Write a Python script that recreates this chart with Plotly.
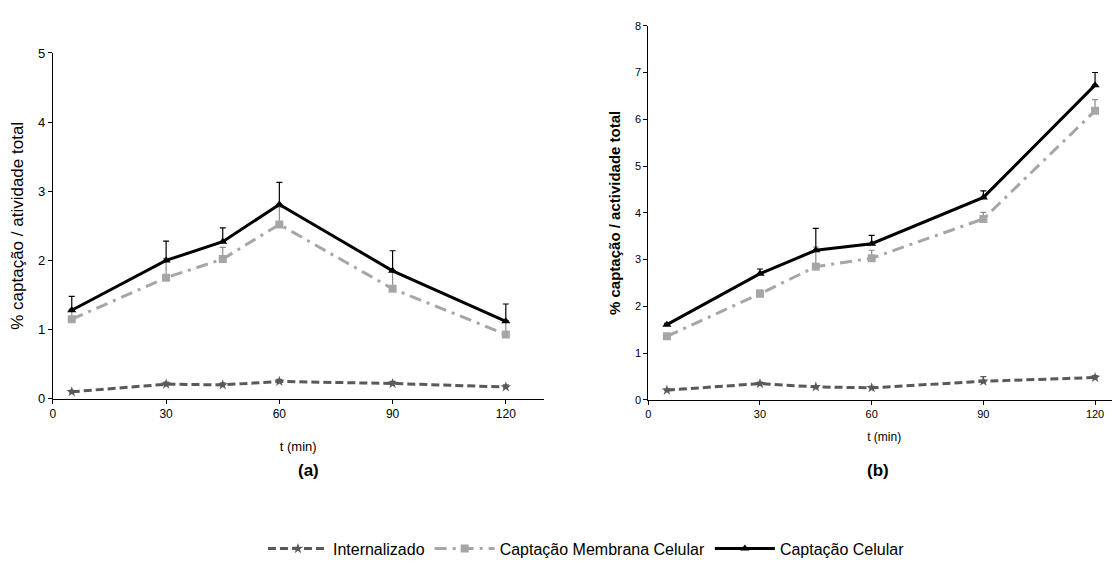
import plotly.graph_objects as go

# ---------------- data ----------------
t_min = [5, 30, 45, 60, 90, 120]

# panel (a)
a_internalizado = [0.10, 0.21, 0.20, 0.25, 0.22, 0.17]
a_internalizado_err = [0.02, 0.03, 0.03, 0.03, 0.03, 0.03]
a_membrana = [1.15, 1.75, 2.02, 2.52, 1.59, 0.93]
a_membrana_err = [0.15, 0.28, 0.17, 0.25, 0.26, 0.20]
a_celular = [1.28, 2.00, 2.27, 2.81, 1.85, 1.12]
a_celular_err = [0.20, 0.28, 0.20, 0.32, 0.29, 0.25]

# panel (b)
b_internalizado = [0.21, 0.35, 0.28, 0.26, 0.40, 0.48]
b_internalizado_err = [0.02, 0.03, 0.03, 0.03, 0.10, 0.04]
b_membrana = [1.36, 2.27, 2.85, 3.03, 3.87, 6.18]
b_membrana_err = [0.05, 0.08, 0.42, 0.17, 0.14, 0.24]
b_celular = [1.61, 2.70, 3.20, 3.34, 4.33, 6.73]
b_celular_err = [0.03, 0.10, 0.47, 0.18, 0.14, 0.27]

series_names = ["Internalizado", "Captação Membrana Celular", "Captação Celular"]
x_ticks = [0, 30, 60, 90, 120]
panel_labels = ["(a)", "(b)"]

# ---------------- geometry ----------------
# the page body adds an 8px offset; the figure is sized so that screen pixels match
OFF = 8
W, H = 1120 - OFF, 583 - OFF


def px(xs):
    return (xs - OFF) / W


def py(ys):
    return (H - (ys - OFF)) / H


FONT = "Liberation Sans, Arial, sans-serif"
styles = [
    dict(color="#595959", dash="8px,4px", symbol="star", size=8, ecolor="#595959"),
    dict(color="#A6A6A6", dash="12px,6px,3px,6px", symbol="square", size=8, ecolor="#8C8C8C"),
    dict(color="#000000", dash="solid", symbol="triangle-up", size=8, ecolor="#000000"),
]

fig = go.Figure()

panels = [
    ([a_internalizado, a_membrana, a_celular],
     [a_internalizado_err, a_membrana_err, a_celular_err], "x", "y"),
    ([b_internalizado, b_membrana, b_celular],
     [b_internalizado_err, b_membrana_err, b_celular_err], "x2", "y2"),
]

for pi, (vals, errs, xa, ya) in enumerate(panels):
    for si in range(3):
        st = styles[si]
        fig.add_trace(go.Scatter(
            x=t_min, y=vals[si], xaxis=xa, yaxis=ya,
            mode="lines+markers",
            name=series_names[si],
            showlegend=(pi == 0),
            line=dict(color=st["color"], width=3, dash=st["dash"]),
            marker=dict(symbol=st["symbol"], size=st["size"], color=st["color"]),
            error_y=dict(type="data", array=errs[si], arrayminus=[0] * len(errs[si]),
                         symmetric=False, color=st["ecolor"], thickness=1.2, width=3),
        ))

axis_common = dict(showline=True, linecolor="#000000", linewidth=1, ticks="outside",
                   ticklen=4, tickcolor="#000000", showgrid=False, zeroline=False,
                   mirror=False)

fig.update_layout(
    width=W, height=H,
    margin=dict(l=0, r=0, t=0, b=0),
    paper_bgcolor="white", plot_bgcolor="white",
    font=dict(family=FONT, color="#000000"),
    xaxis=dict(domain=[px(50), px(542)], range=[0, 130], tickvals=x_ticks,
               tickfont=dict(size=12), anchor="y",
               title=dict(text="t (min)", font=dict(size=13), standoff=21), **axis_common),
    yaxis=dict(domain=[py(402), py(47)], range=[0, 5], dtick=1,
               tickfont=dict(size=13), anchor="x",
               title=dict(text="% captação / atividade total", font=dict(size=17), standoff=10),
               **axis_common),
    xaxis2=dict(domain=[px(647), 1.0], range=[0, 126.7], tickvals=x_ticks,
                tickfont=dict(size=11), anchor="y2",
                title=dict(text="t (min)", font=dict(size=12), standoff=13), **axis_common),
    yaxis2=dict(domain=[py(403.3), py(19)], range=[0, 8], dtick=1,
                tickfont=dict(size=11), anchor="x2",
                title=dict(text="<b>% captação / actividade total</b>", font=dict(size=15),
                           standoff=10),
                **axis_common),
    legend=dict(orientation="h", x=px(585), xanchor="center", y=py(556),
                yanchor="middle", font=dict(family="Liberation Sans Narrow, Liberation Sans, Arial",
                                            size=16),
                itemwidth=60, tracegroupgap=0, bgcolor="rgba(0,0,0,0)"),
)

fig.add_annotation(text="<b>" + panel_labels[0] + "</b>", x=px(294), y=py(487),
                   xref="paper", yref="paper", showarrow=False,
                   font=dict(size=17, family=FONT))
fig.add_annotation(text="<b>" + panel_labels[1] + "</b>", x=px(890), y=py(487),
                   xref="paper", yref="paper", showarrow=False,
                   font=dict(size=17, family=FONT))

fig.write_html("out.html")
